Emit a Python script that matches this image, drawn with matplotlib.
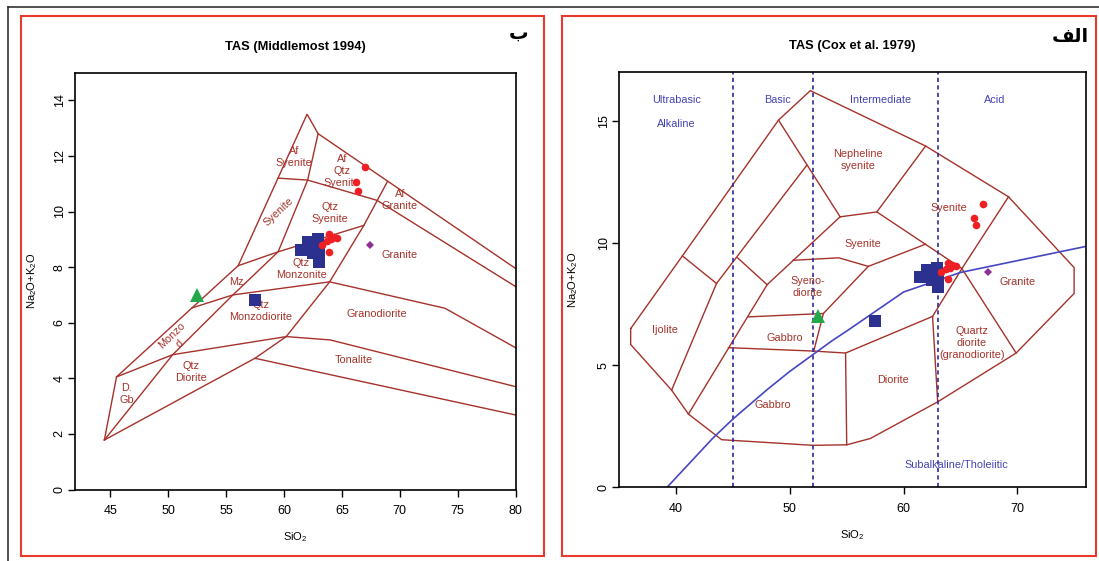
import matplotlib
matplotlib.use("Agg")
import matplotlib.pyplot as plt
from matplotlib.patches import Rectangle
from matplotlib.lines import Line2D

plt.rcParams['font.family'] = ['Liberation Sans', 'DejaVu Sans']
plt.rcParams['mathtext.fontset'] = 'custom'
plt.rcParams['mathtext.rm'] = 'Liberation Sans'
plt.rcParams['mathtext.it'] = 'Liberation Sans:italic'
plt.rcParams['mathtext.bf'] = 'Liberation Sans:bold'

# ---- samples (same in both diagrams) ----
blue_x = [61.45, 61.8, 62.1, 62.5, 62.9, 63.05, 63.05, 62.7, 57.5]
blue_y = [8.6, 8.6, 8.9, 8.5, 9.0, 8.6, 8.2, 8.75, 6.8]
red_x = [67.0, 66.2, 66.4, 63.9, 64.3, 64.6, 63.3, 63.7, 63.9, 64.1]
red_y = [11.6, 11.05, 10.75, 9.2, 9.1, 9.05, 8.8, 8.95, 8.55, 9.0]
green_x, green_y = [52.5], [7.0]
purple_x, purple_y = [67.45], [8.8]

# ---- Middlemost 1994 field boundaries ----
mid_lines = [
    ([44.5, 45.55, 56.05, 62.0, 62.95, 80.0], [1.78, 4.05, 8.05, 13.5, 12.8, 7.95]),
    ([59.5, 62.05, 68.05, 80.0], [11.2, 11.13, 10.4, 7.3]),
    ([62.95, 62.05, 59.5, 55.6, 50.4, 44.5], [12.8, 11.13, 8.55, 7.0, 4.85, 1.78]),
    ([56.05, 59.5, 66.9], [8.05, 8.55, 9.5]),
    ([68.94, 66.9, 63.95, 60.2, 57.5], [11.08, 9.5, 7.47, 5.5, 4.72]),
    ([44.5, 57.5, 80.0], [1.78, 4.72, 2.68]),
    ([45.55, 50.4, 60.2, 64.0, 80.0], [4.05, 4.85, 5.5, 5.38, 3.7]),
    ([52.05, 55.6, 63.95, 73.9, 80.0], [6.53, 7.0, 7.47, 6.52, 5.1]),
]
mid_labels = ["Af\nSyenite", "Af\nQtz\nSyenite", "Af\nGranite", "Qtz\nSyenite",
              "Qtz\nMonzonite", "Granite", "Mz", "Qtz\nMonzodiorite", "Granodiorite",
              "Qtz\nDiorite", "Tonalite", "D.\nGb"]
mid_label_x = [60.9, 65.0, 70.0, 63.95, 61.5, 70.0, 55.9, 58.0, 68.0, 52.0, 66.05, 46.4]
mid_label_y = [11.95, 11.45, 10.42, 9.94, 7.94, 8.42, 7.45, 6.43, 6.3, 4.23, 4.67, 3.43]

# ---- Cox et al. 1979 field boundaries ----
cox_lines = [
    ([36.0, 36.0, 39.6, 41.08, 44.0, 52.0, 55.0, 57.08, 63.0, 69.9, 75.0, 75.0,
      69.23, 61.94, 51.8, 49.0, 40.55, 36.0],
     [6.5, 5.85, 3.98, 3.0, 1.95, 1.72, 1.74, 2.0, 3.5, 5.5, 7.94, 9.0,
      11.9, 13.98, 16.25, 15.04, 9.48, 6.5]),
    ([39.6, 43.55, 51.5], [3.98, 8.35, 13.2]),
    ([40.55, 43.55], [9.48, 8.35]),
    ([41.08, 48.0, 54.42], [3.0, 8.3, 11.08]),
    ([45.4, 48.0], [9.4, 8.3]),
    ([49.0, 54.42], [15.04, 11.08]),
    ([54.42, 57.65, 61.94], [11.08, 11.28, 13.98]),
    ([57.65, 65.13], [11.28, 8.96]),
    ([69.23, 65.13, 62.55, 63.0], [11.9, 8.96, 7.0, 3.5]),
    ([65.13, 69.9], [8.96, 5.5]),
    ([50.3, 54.3, 56.9, 61.94], [9.3, 9.4, 9.05, 9.96]),
    ([56.9, 52.95, 52.1], [9.05, 7.12, 5.58]),
    ([46.3, 52.95], [6.98, 7.12]),
    ([44.6, 52.1, 54.9, 62.55], [5.72, 5.58, 5.5, 7.0]),
    ([54.9, 55.0], [5.5, 1.74]),
]
cox_labels = ["Nepheline\nsyenite", "Syenite", "Syenite", "Syeno-\ndiorite", "Granite",
              "Quartz\ndiorite\n(granodiorite)", "Diorite", "Gabbro", "Gabbro", "Ijolite"]
cox_label_x = [56.0, 64.0, 56.46, 51.54, 70.0, 66.0, 59.08, 49.54, 48.52, 39.0]
cox_label_y = [13.4, 11.45, 9.96, 8.22, 8.42, 5.9, 4.41, 6.12, 3.39, 6.45]
series_names = ["Ultrabasic", "Basic", "Intermediate", "Acid"]
series_x = [40.0, 48.9, 58.0, 68.0]
silica_breaks = [45, 52, 63]
# alkaline / subalkaline divide
alk_x = [39.2, 40, 43.2, 45, 48, 50, 53.7, 55, 60, 65, 77.4]
alk_y = [0, 0.4, 2, 2.8, 4, 4.75, 6, 6.4, 8, 8.8, 10]

BROWN = '#a5322a'
BLUE_TXT = '#4343b4'

W, H = 1099, 561
fig = plt.figure(figsize=(W / 100, H / 100), dpi=100)


def px_axes(x0, y0, x1, y1):
    return fig.add_axes([x0 / W, 1 - y1 / H, (x1 - x0) / W, (y1 - y0) / H])


def fig_line(xs, ys, **kw):
    fig.add_artist(Line2D([x / W for x in xs], [1 - y / H for y in ys],
                          transform=fig.transFigure, **kw))


def fig_rect(x0, y0, x1, y1, **kw):
    fig.add_artist(Rectangle((x0 / W, 1 - y1 / H), (x1 - x0) / W, (y1 - y0) / H,
                             transform=fig.transFigure, fill=False, **kw))


def style(ax, xlim, ylim, xticks, yticks):
    ax.set_xlim(xlim)
    ax.set_ylim(ylim)
    ax.set_xticks(xticks)
    ax.set_yticks(yticks)
    ax.tick_params(axis='both', direction='out', length=5, width=1.0, labelsize=9)
    ax.tick_params(axis='x', pad=6)
    ax.tick_params(axis='y', pad=2)
    for lbl in ax.get_yticklabels():
        lbl.set_rotation(90)
        lbl.set_va('center')
    for s in ax.spines.values():
        s.set_linewidth(1.2)
    ax.set_xlabel("SiO$_2$", fontsize=8)
    ax.set_ylabel("Na$_2$O+K$_2$O", fontsize=8)
    ax.xaxis.label.set_va('center')
    ax.yaxis.label.set_va('center')
    ax.xaxis.set_label_coords(0.5, -0.115)
    ax.yaxis.set_label_coords(-0.0986, 0.5)


def samples(ax):
    ax.plot(blue_x, blue_y, 's', color='#2c308e', ms=8, mew=0, zorder=5)
    ax.plot(red_x, red_y, 'o', color='#ee2024', ms=5.5, mew=0, zorder=6)
    ax.plot(green_x, green_y, '^', color='#22a84a', ms=9.5, mew=0, zorder=6)
    ax.plot(purple_x, purple_y, 'D', color='#8e2f95', ms=4.4, mew=0, zorder=6)


# ---- left: Middlemost ----
axl = px_axes(75.4, 72.5, 515.6, 489.5)
for xs, ys in mid_lines:
    axl.plot(xs, ys, color=BROWN, lw=1.0, solid_joinstyle='miter')
for s, x, y in zip(mid_labels, mid_label_x, mid_label_y):
    axl.text(x, y, s, color=BROWN, fontsize=7.8, ha='center', va='center', linespacing=1.25)
axl.text(59.55, 10.0, "Syenite", color=BROWN, fontsize=7.8, ha='center', va='center', rotation=43)
axl.text(50.69, 5.38, "Monzo\nd", color=BROWN, fontsize=7.8, ha='center', va='center',
         rotation=44, linespacing=1.15)
samples(axl)
style(axl, (42, 80), (0, 15), range(45, 81, 5), range(0, 15, 2))

# ---- right: Cox ----
axr = px_axes(619.3, 72.3, 1085.5, 487.3)
for xs, ys in cox_lines:
    axr.plot(xs, ys, color=BROWN, lw=1.0, solid_joinstyle='miter')
for xb in silica_breaks:
    axr.axvline(xb, color='#2b2ba0', lw=1.2, ls=(0, (2.5, 2)))
axr.plot(alk_x, alk_y, color='#4646c2', lw=1.2)
for s, x, y in zip(cox_labels, cox_label_x, cox_label_y):
    axr.text(x, y, s, color=BROWN, fontsize=7.8, ha='center', va='center', linespacing=1.25)
for s, x in zip(series_names, series_x):
    axr.text(x, 15.87, s, color=BLUE_TXT, fontsize=7.8, ha='center', va='center')
axr.text(40.0, 14.88, "Alkaline", color=BLUE_TXT, fontsize=7.8, ha='center', va='center')
axr.text(64.6, 0.93, "Subalkaline/Tholeiitic", color=BLUE_TXT, fontsize=7.8, ha='center', va='center')
samples(axr)
style(axr, (35, 76), (0, 17), range(40, 71, 10), range(0, 16, 5))

# ---- titles and panel letters ----
fig.text(295.5 / W, 1 - 47 / H, "TAS (Middlemost 1994)", fontsize=9.3, fontweight='bold',
         ha='center', va='center')
fig.text(852.4 / W, 1 - 46.5 / H, "TAS (Cox et al. 1979)", fontsize=9.3, fontweight='bold',
         ha='center', va='center')
# panel letters, Arabic presentation forms in visual order
fig.text(519 / W, 1 - 33 / H, "\uFE8F", fontsize=14, fontweight='bold',
         family='DejaVu Sans', ha='center', va='center')
fig.text(1070 / W, 1 - 37 / H, "\uFED2\uFEDF\uFE8D", fontsize=14, fontweight='bold',
         family='DejaVu Sans', ha='center', va='center')

# ---- frames ----
fig_line([8, 1099], [7, 7], color='#222222', lw=1.1)
fig_line([8, 8], [7, 561], color='#222222', lw=1.1)
fig_rect(21, 16, 544, 556, edgecolor='#e8392c', lw=1.5)
fig_rect(562, 16, 1096, 556, edgecolor='#e8392c', lw=1.5)

fig.savefig("out.png", dpi=100)
